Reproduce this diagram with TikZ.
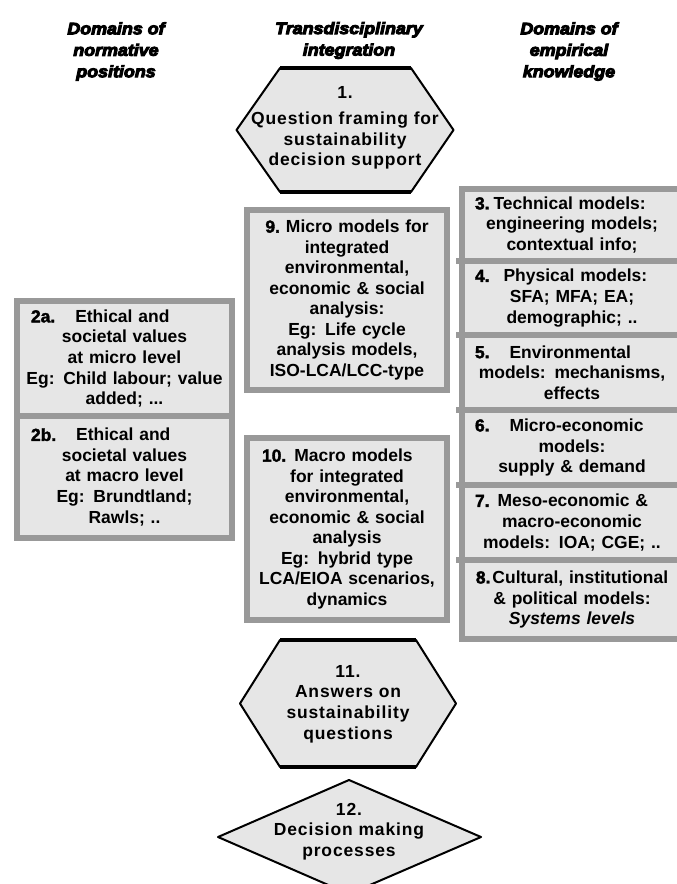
\documentclass[tikz,border=0pt]{standalone}
\usepackage{fontspec}
\setmainfont{Liberation Sans}
\newfontfamily\bodyfont{Liberation Sans Bold}
\newfontfamily\bodyitfont{Liberation Sans Bold Italic}
\newfontfamily\numfont[FakeBold=2]{Liberation Sans Bold}
\newfontfamily\hexfont[LetterSpace=5]{Liberation Sans Bold}
\newfontfamily\headfont[FakeStretch=1.08,FakeBold=6]{Liberation Sans Bold Italic}
\newdimen\pxu \pxu=0.75pt
\newcommand\bodysize{\fontsize{13.1pt}{15.4pt}\selectfont}
\newcommand\headsize{\fontsize{12.4pt}{16.1pt}\selectfont}
\newcommand\nr[1]{{\numfont #1}}
% first line of a panel, set flush left with a small indent
\newcommand\lead[2]{\hbox to\hsize{\hskip#1\pxu #2\hfil}}
\definecolor{panelfill}{HTML}{E6E6E6}
\definecolor{panelrim}{HTML}{999999}
\tikzset{
  heading/.style={font=\headfont\headsize, align=center, inner sep=0pt},
  panel/.style={draw=panelrim, fill=panelfill, line width=4.5pt, inner sep=0pt,
                align=center, font=\bodyfont\bodysize},
  leftcol/.style={panel, minimum width=161.25pt, text width=150pt},
  midcol/.style={panel, minimum width=150pt, text width=142.5pt},
  rightcol/.style={panel, minimum width=165pt, text width=150pt},
  divtick/.style={draw=panelrim, line width=4.5pt},
  hexa/.style={draw=black, fill=panelfill, line width=1.5pt, line join=round},
  hexedge/.style={draw=black, line width=2.4pt},
  hexlabel/.style={font=\hexfont\bodysize, align=center, inner sep=0pt},
}
\begin{document}
\begin{tikzpicture}[x=0.75pt,y=-0.75pt]
\fill[white] (0,0) rectangle (676,884);
\useasboundingbox (0,0) rectangle (676,884);

% column headings
\node[heading] (hl) at (116,51.5) {Domains of\\normative\\positions};
\node[heading] (hm) at (349,40.5) {Transdisciplinary\\integration};
\node[heading] (hr) at (569,51.5) {Domains of\\empirical\\knowledge};

% 1. question framing
\path[hexa] (280,68) -- (411,68) -- (453.5,130) -- (411,192) -- (280,192) -- (236.5,130) -- cycle;
\draw[hexedge] (280,68) -- (411,68);
\draw[hexedge] (280,192) -- (411,192);
\node[hexlabel] (q1) at (345,128) {1.\\[6\pxu]Question framing for\\sustainability\\decision support};

% integration models
\node[midcol, minimum height=135pt] (p9) at (347,300)
  {\nr{9.}\hspace{6\pxu}Micro models for\\ integrated\\ environmental,\\ economic \& social\\ analysis:\\ Eg: Life cycle\\ analysis models,\\ ISO-LCA/LCC-type};
\node[midcol, minimum height=136.5pt] (p10) at (347,529)
  {\lead{10}{\nr{10.}\hspace{8\pxu}Macro models}\\ for integrated\\ environmental,\\ economic \& social\\ analysis\\ Eg: hybrid type\\ LCA/EIOA scenarios,\\ dynamics};

% normative positions
\node[leftcol, minimum height=86.25pt] (p2a) at (124.5,358.5)
  {\lead{6.5}{\nr{2a.}\hspace{20\pxu}Ethical and}\\ societal values\\ at micro level\\ Eg: Child labour; value\\ added; ...};
\node[leftcol, minimum height=91.5pt] (p2b) at (124.5,477)
  {\lead{6.5}{\nr{2b.}\hspace{20\pxu}Ethical and}\\ societal values\\ at macro level\\ Eg: Brundtland;\\ Rawls; ..};

% empirical knowledge
\foreach \yy in {261,335,410,485,560}
  \draw[divtick] (456,\yy) -- (464,\yy);
\node[rightcol, minimum height=54pt] (p3) at (572,225)
  {\lead{3}{\nr{3.}\hspace{4\pxu}Technical models:}\\ engineering models;\\ contextual info;};
\node[rightcol, minimum height=55.5pt] (p4) at (572,298)
  {\lead{3}{\nr{4.}\hspace{14\pxu}Physical models:}\\ SFA; MFA; EA;\\ demographic; ..};
\node[rightcol, minimum height=56.25pt] (p5) at (572,372.5)
  {\lead{3}{\nr{5.}\hspace{20\pxu}Environmental}\\ models: mechanisms,\\ effects};
\node[rightcol, minimum height=56.25pt] (p6) at (572,447.5)
  {\lead{3}{\nr{6.}\hspace{20\pxu}Micro-economic}\\ models:\\ supply \& demand};
\node[rightcol, minimum height=56.25pt] (p7) at (572,522.5)
  {\lead{3}{\nr{7.}\hspace{8\pxu}Meso-economic \&}\\ macro-economic\\ models: IOA; CGE; ..};
\node[rightcol, minimum height=59.25pt] (p8) at (572,599.5)
  {\nr{8.}\hspace{2\pxu}Cultural, institutional\\ \& political models:\\ {\bodyitfont Systems levels}};

% 11. answers
\path[hexa] (280,640) -- (416,640) -- (456,703.5) -- (416,767) -- (280,767) -- (240,703.5) -- cycle;
\draw[hexedge] (280,640) -- (416,640);
\draw[hexedge] (280,767) -- (416,767);
\node[hexlabel] (q11) at (348,704) {11.\\Answers on\\sustainability\\questions};

% 12. decision making
\path[hexa] (349,780) -- (481,837) -- (349,894) -- (218,837) -- cycle;
\node[hexlabel] (q12) at (349,831.5) {12.\\Decision making\\processes};
\end{tikzpicture}
\end{document}
